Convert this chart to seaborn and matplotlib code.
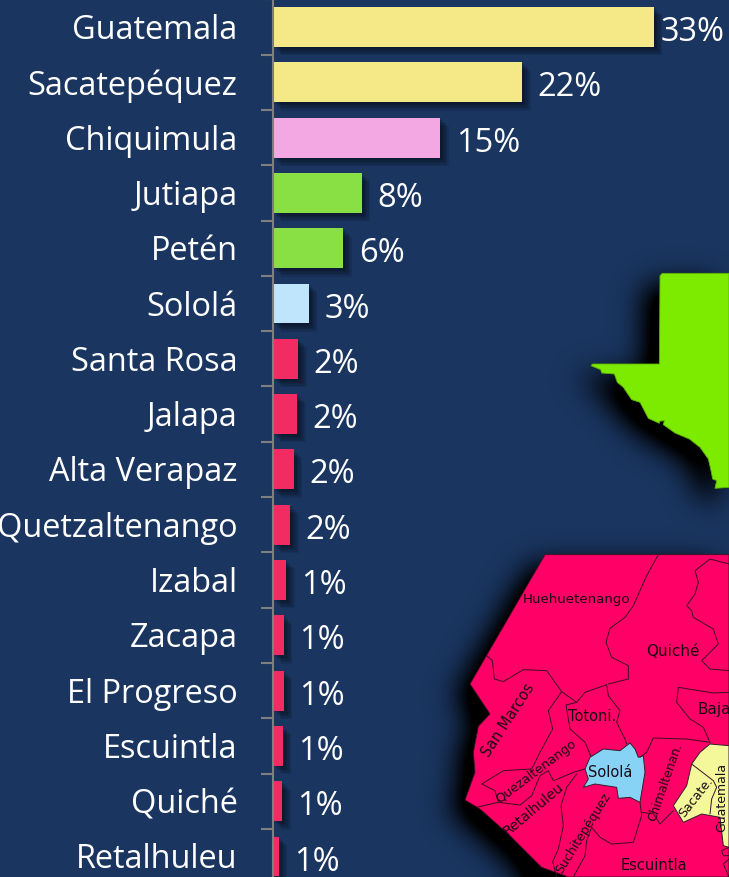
"""Share of cases by department with a map of Guatemala behind it."""

import matplotlib.pyplot as plt
import matplotlib.patheffects as pe
from matplotlib.path import Path
from matplotlib.patches import Polygon
from matplotlib.transforms import ScaledTranslation
import numpy as np
import pandas as pd
import seaborn as sns

departments = ["Guatemala", "Sacatepéquez", "Chiquimula", "Jutiapa", "Petén", "Sololá",
               "Santa Rosa", "Jalapa", "Alta Verapaz", "Quetzaltenango", "Izabal", "Zacapa",
               "El Progreso", "Escuintla", "Quiché", "Retalhuleu"]
shares = [33.0, 21.6, 14.5, 7.7, 6.1, 3.1, 2.2, 2.1, 1.8, 1.5, 1.15, 0.95, 0.95, 0.87, 0.8, 0.5]
share_labels = ["33%", "22%", "15%", "8%", "6%", "3%", "2%", "2%", "2%", "2%",
                "1%", "1%", "1%", "1%", "1%", "1%"]
bar_colors = ["#F5E887", "#F5E887", "#F3A8E4", "#88E044", "#88E044", "#BFE5FD"] + ["#F22C62"] * 10

BG = "#1A3560"
W, H = 729, 878


def crop1(points):
    return [(460 + x / 3, 540 + y / 3) for x, y in points]


def crop2(points):
    """Same for the crop at (580, 260)."""
    return [(580 + x / 3, 260 + y / 3) for x, y in points]


peten = crop2([(240, 50), (247, 43), (447, 43), (447, 685), (405, 688), (410, 665), (398, 660),
               (392, 630), (385, 600), (360, 565), (328, 540), (285, 522), (250, 497), (253, 485),
               (238, 487), (238, 493), (205, 478), (180, 430), (155, 422), (130, 385), (112, 370),
               (103, 345), (65, 342), (62, 332), (33, 320), (38, 315), (238, 315)])
south = crop1([(255, 47), (807, 47), (807, 1014), (325, 1014), (245, 985), (150, 890), (60, 810),
               (15, 783), (45, 700), (40, 640), (55, 562), (90, 525), (30, 435)])
solola = crop1([(510, 612), (480, 635), (430, 630), (390, 655), (375, 690), (385, 720), (370, 745),
                (405, 735), (470, 745), (475, 778), (510, 775), (540, 790), (555, 700), (550, 650),
                (535, 655), (525, 630)])
yellow = crop1([(750, 615), (720, 640), (695, 675), (680, 740), (640, 800), (670, 850), (725, 825),
                (780, 835), (790, 920), (807, 925), (807, 620)])
borders = [
    [(595, 47), (560, 110), (520, 200), (495, 235), (450, 268), (438, 310), (455, 355), (505, 380),
     (505, 420), (445, 435)],
    [(80, 350), (97, 365), (103, 420), (130, 428), (190, 392), (260, 395), (305, 458), (350, 490)],
    [(305, 458), (265, 515), (278, 570), (240, 640), (215, 690), (130, 695), (65, 735), (105, 755),
     (115, 790), (50, 805)],
    [(392, 650), (375, 610), (330, 570), (318, 498), (350, 490), (375, 460), (440, 437), (445, 470),
     (480, 515), (470, 550), (495, 600), (500, 615)],
    [(375, 690), (340, 700), (305, 715), (280, 725), (265, 695), (240, 710), (215, 770), (180, 798),
     (115, 790)],
    [(350, 705), (320, 745), (303, 800), (310, 860), (295, 930), (278, 968), (290, 1014)],
    [(540, 790), (545, 830), (520, 910), (455, 915), (420, 895), (395, 865), (380, 905), (375, 950),
     (340, 1014)],
    [(750, 610), (680, 600), (580, 597), (560, 640), (540, 655)],
    [(545, 820), (580, 825), (600, 855), (640, 815)],
    [(807, 460), (760, 462), (655, 445), (650, 490), (690, 540), (730, 565), (750, 610)],
    [(807, 395), (750, 390), (725, 365), (745, 345), (775, 315), (760, 270), (700, 235), (695, 215),
     (680, 200), (705, 165), (715, 130), (705, 95), (750, 60), (807, 75)],
    [(695, 675), (760, 725), (770, 745), (755, 780), (750, 825)],
    [(807, 925), (785, 935), (790, 950), (807, 950)],
    [(807, 960), (790, 975), (807, 1014)],
]
map_labels = [
    ("Huehuetenango", 577, 600, 0, 9.6), ("Quiché", 673, 652, 0, 11.0), ("Baja", 714, 710, 0, 11.0),
    ("Totoni.", 592, 717, 0, 10.5), ("Sololá", 610, 773, 0, 10.5), ("San Marcos", 508, 720, 57, 10.5),
    ("Quezaltenango", 536, 772, 37, 9.2), ("Retalhuleu", 533, 809, 40, 10.0),
    ("Suchitepéquez", 583, 833, 58, 9.0), ("Chimaltenan.", 665, 782, 71, 8.8),
    ("Sacate.", 696, 797, 52, 9.0), ("Guatemala", 722, 797, 90, 9.0), ("Escuintla", 654, 866, 0, 10.5),
]

sns.set_theme(style="white")
plt.rcParams["font.family"] = ["Open Sans", "DejaVu Sans"]

fig = plt.figure(figsize=(W / 100, H / 100), dpi=100, facecolor=BG)

# Map layer, in pixel coordinates
map_ax = fig.add_axes([0, 0, 1, 1], zorder=0)
map_ax.set_xlim(0, W)
map_ax.set_ylim(H, 0)
map_ax.axis("off")

# Soft black drop shadow under the two map pieces
xx, yy = np.meshgrid(np.arange(W), np.arange(H))
grid = np.column_stack([xx.ravel() + 14, yy.ravel() - 12])
mask = np.zeros(H * W)
for outline in (peten, south):
    mask = np.maximum(mask, Path(outline).contains_points(grid))
mask = mask.reshape(H, W)
kernel = np.exp(-0.5 * (np.arange(-45, 46) / 15) ** 2)
kernel /= kernel.sum()
padded = np.pad(mask, 45, mode="edge")
blur = np.apply_along_axis(lambda r: np.convolve(r, kernel, mode="same"), 0, padded)
blur = np.apply_along_axis(lambda r: np.convolve(r, kernel, mode="same"), 1, blur)[45:-45, 45:-45]
shadow = np.zeros((H, W, 4))
shadow[..., 3] = np.clip(blur * 1.6, 0, 1)
map_ax.imshow(shadow, extent=(0, W, H, 0), aspect="auto", zorder=1)

map_ax.add_patch(Polygon(peten, facecolor="#7CEB00", edgecolor="#5FB000", lw=0.6, zorder=2))
map_ax.add_patch(Polygon(south, facecolor="#FF0066", edgecolor="#40101F", lw=0.6, zorder=2))
map_ax.add_patch(Polygon(solola, facecolor="#87D3F5", edgecolor="#30202A", lw=0.7, zorder=3))
map_ax.add_patch(Polygon(yellow, facecolor="#F5F79B", edgecolor="#30202A", lw=0.7, zorder=3))
for line in borders:
    pts = np.array(crop1(line))
    map_ax.plot(pts[:, 0], pts[:, 1], color="#3A0F22", lw=0.7, zorder=4)
for text, x, y, angle, size in map_labels:
    map_ax.text(x, y, text, rotation=angle, fontsize=size, family="DejaVu Sans", color="#1A0A12",
                ha="center", va="center", rotation_mode="anchor", zorder=5, clip_on=True)
map_ax.set_xlim(0, W)
map_ax.set_ylim(H, 0)

# Bar layer
ax = fig.add_axes([273 / W, 0, (W - 273) / W, 1], zorder=1)
ax.patch.set_visible(False)

df = pd.DataFrame({"department": departments, "share": shares})
sns.barplot(data=df, x="share", y="department", hue="department", palette=bar_colors,
            saturation=1, width=0.723, legend=False, linewidth=0, ax=ax)

shadow_fx = [pe.SimplePatchShadow(offset=(k, -k), shadow_rgbFace="black", alpha=0.1)
             for k in (6, 5, 4, 3, 2, 1)] + [pe.Normal()]
for bar in ax.patches:
    bar.set_path_effects(shadow_fx)

ax.set_xlabel("")
ax.set_ylabel("")
ax.set_xticks([])

for i, label in enumerate(share_labels):
    gap = 4.6 if i == 0 else 11.0
    ax.annotate(label, (shares[i], i), xytext=(gap, -3.3), textcoords="offset points",
                ha="left", va="center", color="white", fontsize=23.5, annotation_clip=False)

for side in ("top", "right", "bottom"):
    ax.spines[side].set_visible(False)
ax.spines["left"].set_color("#7F7F7F")
ax.spines["left"].set_linewidth(1.5)

# Ticks sit between the categories, the labels on them
ax.set_yticks(np.arange(len(departments)))
ax.set_yticklabels(departments, color="white", fontsize=23.4)
ax.set_yticks(np.arange(len(departments) + 1) - 0.5, minor=True)
ax.tick_params(axis="y", which="major", length=0, pad=25.5)
ax.tick_params(axis="y", which="minor", length=8.6, width=1.5, color="#7F7F7F", left=True)

# nudge the labels up a little
nudge = ScaledTranslation(0, 1.5 / 100, fig.dpi_scale_trans)
for tick_label in ax.get_yticklabels():
    tick_label.set_transform(tick_label.get_transform() + nudge)

# set_yticks widens the view, so the limits come last
ax.set_xlim(0, (W - 273) / 11.55)
ax.set_ylim((H - 28) / 55.3, -28 / 55.3)

fig.savefig("out.png", dpi=100, facecolor=BG)
plt.close(fig)
